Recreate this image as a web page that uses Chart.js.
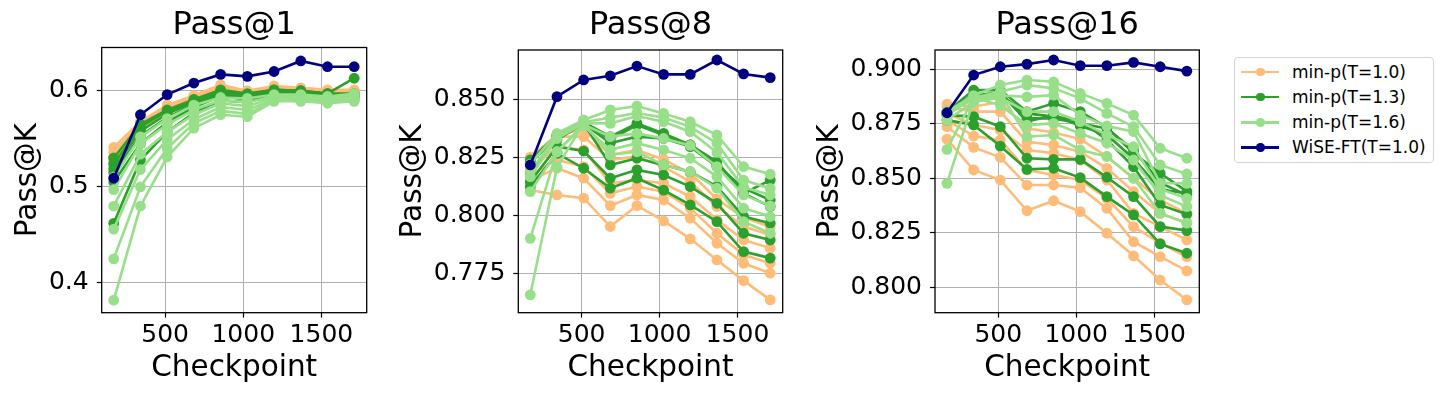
<!DOCTYPE html>
<html>
<head>
<meta charset="utf-8">
<script src="https://cdn.jsdelivr.net/npm/chart.js@4/dist/chart.umd.min.js"></script>
<style>
  html, body { margin: 0; padding: 0; background: #fff; }
  body { width: 1447px; height: 398px; position: relative; overflow: hidden; font-family: 'DejaVu Sans', sans-serif; }
  .panel { position: absolute; top: 0; }
  #legend { position: absolute; left: 1234px; top: 57px; width: 200px; height: 106px; box-sizing: border-box;
            border: 1px solid #d3d3d3; border-radius: 4px; background: #fff; }
  .row { position: absolute; left: 0; height: 25px; line-height: 25px; font-size: 17px; color: #000; white-space: nowrap; }
  .row .ln { position: absolute; left: 6px; top: 11px; width: 38px; height: 2.5px; }
  .row .dot { position: absolute; left: 21px; top: 8px; width: 8.5px; height: 8.5px; border-radius: 50%; }
  .row .txt { position: absolute; left: 57px; top: 0; }
</style>
</head>
<body>
<div class="panel" style="left:0px"><canvas id="c1" width="385" height="398"></canvas></div>
<div class="panel" style="left:385px"><canvas id="c2" width="410" height="398"></canvas></div>
<div class="panel" style="left:800px"><canvas id="c3" width="410" height="398"></canvas></div>
<div id="legend"></div>
<script>
// x positions of the checkpoints (same for every panel)
const checkpoints = [171, 342, 513, 684, 855, 1026, 1197, 1368, 1539, 1710];
const xTicks = [500, 1000, 1500];
const xTickLabels = ['500', '1000', '1500'];

const seriesNames = ['min-p(T=1.0)', 'min-p(T=1.3)', 'min-p(T=1.6)', 'WiSE-FT(T=1.0)'];

// ---- Pass@1 ----
const pass1T10 = [
  [0.541, 0.568, 0.585, 0.595, 0.606, 0.600, 0.605, 0.603, 0.601, 0.601],
  [0.536, 0.566, 0.583, 0.594, 0.604, 0.599, 0.604, 0.602, 0.600, 0.600],
  [0.532, 0.565, 0.582, 0.593, 0.603, 0.598, 0.603, 0.602, 0.600, 0.599],
  [0.530, 0.563, 0.580, 0.592, 0.602, 0.598, 0.602, 0.601, 0.599, 0.599],
  [0.527, 0.562, 0.579, 0.591, 0.601, 0.597, 0.602, 0.600, 0.599, 0.598],
  [0.524, 0.560, 0.578, 0.590, 0.600, 0.596, 0.601, 0.600, 0.598, 0.598]
];
const pass1T13 = [
  [0.530, 0.565, 0.580, 0.591, 0.601, 0.597, 0.601, 0.600, 0.597, 0.613],
  [0.524, 0.562, 0.579, 0.590, 0.599, 0.596, 0.601, 0.600, 0.597, 0.597],
  [0.519, 0.558, 0.576, 0.588, 0.598, 0.595, 0.600, 0.599, 0.596, 0.596],
  [0.515, 0.553, 0.572, 0.586, 0.596, 0.593, 0.599, 0.598, 0.595, 0.595],
  [0.505, 0.545, 0.567, 0.583, 0.594, 0.591, 0.598, 0.597, 0.594, 0.594],
  [0.462, 0.528, 0.557, 0.577, 0.590, 0.588, 0.597, 0.596, 0.593, 0.593]
];
const pass1T16 = [
  [0.510, 0.552, 0.571, 0.585, 0.593, 0.592, 0.596, 0.596, 0.594, 0.597],
  [0.497, 0.545, 0.565, 0.580, 0.590, 0.588, 0.594, 0.594, 0.593, 0.595],
  [0.480, 0.534, 0.557, 0.575, 0.587, 0.584, 0.593, 0.593, 0.591, 0.593],
  [0.456, 0.518, 0.549, 0.570, 0.583, 0.580, 0.591, 0.591, 0.590, 0.592],
  [0.425, 0.500, 0.540, 0.566, 0.579, 0.576, 0.590, 0.590, 0.588, 0.590],
  [0.382, 0.480, 0.531, 0.561, 0.575, 0.573, 0.589, 0.589, 0.587, 0.589]
];
const pass1Wise = [0.509, 0.575, 0.596, 0.608, 0.617, 0.615, 0.620, 0.631, 0.625, 0.625];
const pass1YTicks = [0.4, 0.5, 0.6];
const pass1YLabels = ['0.4', '0.5', '0.6'];

// ---- Pass@8 ----
const pass8T10 = [
  [0.8108, 0.8087, 0.8073, 0.7951, 0.8041, 0.7975, 0.7898, 0.7807, 0.7718, 0.7635],
  [0.8151, 0.8202, 0.8159, 0.8041, 0.8087, 0.8065, 0.7987, 0.7879, 0.7793, 0.7750],
  [0.8173, 0.8238, 0.8209, 0.8094, 0.8123, 0.8101, 0.8030, 0.7922, 0.7829, 0.7793],
  [0.8195, 0.8295, 0.8281, 0.8137, 0.8151, 0.8137, 0.8080, 0.7980, 0.7893, 0.7858],
  [0.8245, 0.8338, 0.8338, 0.8238, 0.8252, 0.8209, 0.8144, 0.8037, 0.7951, 0.7915],
  [0.8250, 0.8345, 0.8370, 0.8260, 0.8280, 0.8240, 0.8180, 0.8070, 0.7990, 0.7950]
];
const pass8T13 = [
  [0.8123, 0.8266, 0.8202, 0.8116, 0.8159, 0.8108, 0.8044, 0.7972, 0.7843, 0.7815],
  [0.8144, 0.8295, 0.8276, 0.8159, 0.8195, 0.8173, 0.8123, 0.8051, 0.7922, 0.7893],
  [0.8187, 0.8324, 0.8395, 0.8216, 0.8245, 0.8216, 0.8187, 0.8123, 0.7994, 0.7965],
  [0.8223, 0.8338, 0.8395, 0.8310, 0.8338, 0.8330, 0.8295, 0.8209, 0.8094, 0.8037],
  [0.8238, 0.8345, 0.8402, 0.8326, 0.8388, 0.8345, 0.8302, 0.8216, 0.8116, 0.8065],
  [0.8230, 0.8340, 0.8400, 0.8338, 0.8395, 0.8352, 0.8302, 0.8230, 0.8094, 0.8151]
];
const pass8T16 = [
  [0.8220, 0.8352, 0.8410, 0.8453, 0.8470, 0.8438, 0.8402, 0.8345, 0.8209, 0.8176],
  [0.8190, 0.8340, 0.8400, 0.8420, 0.8440, 0.8420, 0.8380, 0.8310, 0.8151, 0.8115],
  [0.8166, 0.8330, 0.8395, 0.8395, 0.8427, 0.8402, 0.8359, 0.8270, 0.8120, 0.8087],
  [0.8101, 0.8273, 0.8390, 0.8338, 0.8352, 0.8330, 0.8300, 0.8209, 0.8087, 0.8040],
  [0.7900, 0.8273, 0.8385, 0.8281, 0.8310, 0.8281, 0.8245, 0.8166, 0.8030, 0.7994],
  [0.7657, 0.8206, 0.8395, 0.8259, 0.8273, 0.8216, 0.8187, 0.8116, 0.7972, 0.7922]
];
const pass8Wise = [0.8216, 0.851, 0.8582, 0.8600, 0.8642, 0.8606, 0.8606, 0.8668, 0.8608, 0.8592];
const pass8YTicks = [0.775, 0.8, 0.825, 0.85];
const pass8YLabels = ['0.775', '0.800', '0.825', '0.850'];

// ---- Pass@16 ----
const pass16T10 = [
  [0.8680, 0.8538, 0.8492, 0.8351, 0.8397, 0.8347, 0.8248, 0.8144, 0.8033, 0.7942],
  [0.8737, 0.8642, 0.8596, 0.8469, 0.8469, 0.8457, 0.8362, 0.8209, 0.8140, 0.8075],
  [0.8767, 0.8694, 0.8676, 0.8538, 0.8515, 0.8492, 0.8408, 0.8278, 0.8202, 0.8140],
  [0.8798, 0.8745, 0.8722, 0.8630, 0.8615, 0.8584, 0.8492, 0.8339, 0.8278, 0.8217],
  [0.8828, 0.8806, 0.8806, 0.8668, 0.8653, 0.8622, 0.8546, 0.8439, 0.8339, 0.8296],
  [0.8840, 0.8830, 0.8850, 0.8730, 0.8710, 0.8680, 0.8600, 0.8500, 0.8400, 0.8340]
];
const pass16T13 = [
  [0.8767, 0.8745, 0.8648, 0.8541, 0.8546, 0.8503, 0.8416, 0.8332, 0.8199, 0.8156],
  [0.8790, 0.8783, 0.8737, 0.8592, 0.8587, 0.8587, 0.8505, 0.8416, 0.8278, 0.8260],
  [0.8806, 0.8882, 0.8890, 0.8775, 0.8775, 0.8752, 0.8729, 0.8630, 0.8480, 0.8423],
  [0.8806, 0.8905, 0.8905, 0.8806, 0.8844, 0.8806, 0.8734, 0.8615, 0.8523, 0.8440],
  [0.8798, 0.8867, 0.8882, 0.8798, 0.8783, 0.8767, 0.8676, 0.8553, 0.8378, 0.8335],
  [0.8800, 0.8880, 0.8895, 0.8760, 0.8790, 0.8740, 0.8700, 0.8590, 0.8450, 0.8430]
];
const pass16T16 = [
  [0.8806, 0.8880, 0.8928, 0.8951, 0.8943, 0.8890, 0.8844, 0.8790, 0.8638, 0.8592],
  [0.8790, 0.8870, 0.8897, 0.8928, 0.8913, 0.8867, 0.8798, 0.8737, 0.8561, 0.8520],
  [0.8810, 0.8860, 0.8880, 0.8874, 0.8882, 0.8790, 0.8740, 0.8714, 0.8477, 0.8477],
  [0.8767, 0.8850, 0.8870, 0.8806, 0.8806, 0.8760, 0.8699, 0.8645, 0.8450, 0.8408],
  [0.8633, 0.8870, 0.8836, 0.8744, 0.8752, 0.8706, 0.8661, 0.8584, 0.8423, 0.8370],
  [0.8477, 0.8860, 0.8890, 0.8691, 0.8699, 0.8630, 0.8600, 0.8500, 0.8339, 0.8294]
];
const pass16Wise = [0.8801, 0.8974, 0.9012, 0.9024, 0.9043, 0.9017, 0.9017, 0.9032, 0.9012, 0.8992];
const pass16YTicks = [0.8, 0.825, 0.85, 0.875, 0.9];
const pass16YLabels = ['0.800', '0.825', '0.850', '0.875', '0.900'];

// styling
const colors = ['#ffbb78', '#2ca02c', '#98df8a', '#000080'];
const FONT = "'DejaVu Sans', sans-serif";
Chart.defaults.font.family = FONT;
Chart.defaults.color = '#000';

// black box round the plot area
const framePlugin = {
  id: 'frame',
  afterDraw(chart) {
    const a = chart.chartArea;
    const ctx = chart.ctx;
    ctx.save();
    ctx.strokeStyle = '#000';
    ctx.lineWidth = 1.3;
    ctx.strokeRect(a.left, a.top, a.right - a.left, a.bottom - a.top);
    ctx.restore();
  }
};

function lineDataset(label, values, color, order) {
  return {
    label: label,
    data: checkpoints.map((x, i) => ({ x: x, y: values[i] })),
    borderColor: color,
    backgroundColor: color,
    pointBackgroundColor: color,
    pointBorderWidth: 0,
    pointRadius: 5.4,
    borderWidth: 2.6,
    tension: 0,
    order: order
  };
}

function buildDatasets(groups, wise) {
  const ds = [];
  groups.forEach((lines, g) => {
    lines.forEach(line => ds.push(lineDataset(seriesNames[g], line, colors[g], 3 - g)));
  });
  ds.push(lineDataset(seriesNames[3], wise, colors[3], 0));
  return ds;
}

function makeChart(id, opt) {
  const ctx = document.getElementById(id);
  return new Chart(ctx, {
    type: 'line',
    data: { datasets: buildDatasets(opt.groups, opt.wise) },
    options: {
      responsive: false,
      animation: false,
      devicePixelRatio: 1,
      layout: { padding: { left: 0, right: opt.padRight, top: 0, bottom: 0 } },
      plugins: {
        legend: { display: false },
        tooltip: { enabled: false },
        title: {
          display: true,
          text: opt.title,
          fullSize: false,
          font: { size: 32, weight: 'normal', family: FONT },
          color: '#000',
          padding: { top: 6.3, bottom: opt.titleBottom }
        }
      },
      scales: {
        x: {
          type: 'linear',
          min: 94,
          max: 1790,
          afterBuildTicks: axis => { axis.ticks = xTicks.map(v => ({ value: v })); },
          afterFit: axis => { axis.height = 85.3; },
          ticks: {
            font: { size: 25 },
            color: '#000',
            padding: 2.8,
            maxRotation: 0,
            callback: (v, i) => xTickLabels[i]
          },
          grid: { color: '#b0b0b0', lineWidth: 1, tickColor: '#000', tickLength: 5, tickWidth: 1.2 },
          border: { display: false },
          title: { display: true, text: 'Checkpoint', font: { size: 29.5 }, color: '#000', padding: { top: 0, bottom: 12.3 } }
        },
        y: {
          type: 'linear',
          min: opt.yMin,
          max: opt.yMax,
          afterBuildTicks: axis => { axis.ticks = opt.yTicks.map(v => ({ value: v })); },
          afterFit: axis => { axis.width = opt.yWidth; },
          ticks: {
            font: { size: 25 },
            color: '#000',
            padding: 8,
            callback: (v, i) => opt.yLabels[i]
          },
          grid: { color: '#b0b0b0', lineWidth: 1, tickColor: '#000', tickLength: 5, tickWidth: 1.2 },
          border: { display: false },
          title: { display: true, text: 'Pass@K', font: { size: 29.5 }, color: '#000', padding: { top: opt.yTitlePad, bottom: 0 } }
        }
      }
    },
    plugins: [framePlugin]
  });
}

makeChart('c1', {
  title: 'Pass@1', groups: [pass1T10, pass1T13, pass1T16], wise: pass1Wise,
  yMin: 0.3690, yMax: 0.6450, yTicks: pass1YTicks, yLabels: pass1YLabels,
  yWidth: 101.7, padRight: 18.3, titleBottom: 2.8, yTitlePad: 10.3
});
makeChart('c2', {
  title: 'Pass@8', groups: [pass8T10, pass8T13, pass8T16], wise: pass8Wise,
  yMin: 0.7580, yMax: 0.8711, yTicks: pass8YTicks, yLabels: pass8YLabels,
  yWidth: 133.3, padRight: 12.3, titleBottom: 5.3, yTitlePad: 10.3
});
makeChart('c3', {
  title: 'Pass@16', groups: [pass16T10, pass16T13, pass16T16], wise: pass16Wise,
  yMin: 0.7883, yMax: 0.9089, yTicks: pass16YTicks, yLabels: pass16YLabels,
  yWidth: 135, padRight: 10.7, titleBottom: 5.3, yTitlePad: 12.3
});

// legend: one entry per series
const legend = document.getElementById('legend');
seriesNames.forEach((name, i) => {
  const row = document.createElement('div');
  row.className = 'row';
  row.style.top = (1.5 + i * 25.3) + 'px';
  row.innerHTML = '<span class="ln" style="background:' + colors[i] + '"></span>' +
    '<span class="dot" style="background:' + colors[i] + '"></span>' +
    '<span class="txt">' + name + '</span>';
  legend.appendChild(row);
});
</script>
</body>
</html>
